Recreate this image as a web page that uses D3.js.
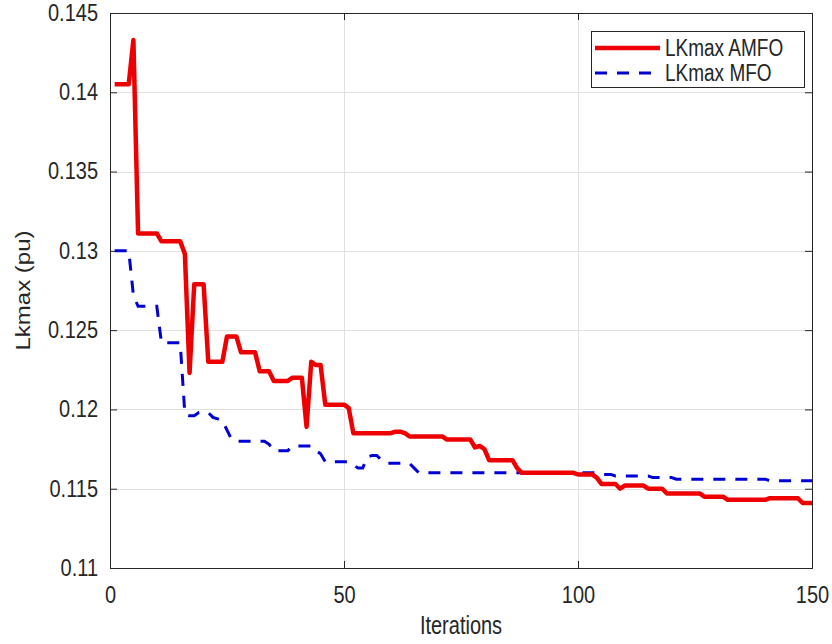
<!DOCTYPE html>
<html>
<head>
<meta charset="utf-8">
<script src="https://cdn.jsdelivr.net/npm/d3@7"></script>
<style>
  html, body { margin: 0; padding: 0; background: #fff; }
  svg { display: block; font-family: "Liberation Sans", Arial, Helvetica, sans-serif; }
</style>
</head>
<body>
<svg class="chart" width="832" height="644"></svg>
<script>
// iteration values, iterations 1..150
const amfo = [
  0.1405, 0.1405, 0.1405, 0.1405, 0.1433, 0.1311, 0.1311, 0.1311, 0.1311, 0.1311,
  0.1306, 0.1306, 0.1306, 0.1306, 0.1306, 0.1298, 0.1223, 0.1279, 0.1279, 0.1279,
  0.1230, 0.1230, 0.1230, 0.1230, 0.1246, 0.1246, 0.1246, 0.1236, 0.1236, 0.1236,
  0.1236, 0.1224, 0.1224, 0.1224, 0.1218, 0.1218, 0.1218, 0.1218, 0.1220, 0.1220,
  0.1220, 0.1189, 0.1230, 0.1228, 0.1228, 0.1203, 0.1203, 0.1203, 0.1203, 0.1203,
  0.1201, 0.1185, 0.1185, 0.1185, 0.1185, 0.1185, 0.1185, 0.1185, 0.1185, 0.1185,
  0.1186, 0.1186, 0.1185, 0.1183, 0.1183, 0.1183, 0.1183, 0.1183, 0.1183, 0.1183,
  0.1183, 0.1181, 0.1181, 0.1181, 0.1181, 0.1181, 0.1181, 0.1176, 0.1177, 0.1175,
  0.1168, 0.1168, 0.1168, 0.1168, 0.1168, 0.1168, 0.1163, 0.1160, 0.1160, 0.1160,
  0.1160, 0.1160, 0.1160, 0.1160, 0.1160, 0.1160, 0.1160, 0.1160, 0.1160, 0.1159,
  0.1159, 0.1159, 0.1159, 0.1157, 0.1153, 0.1153, 0.1153, 0.1153, 0.1150, 0.1152,
  0.1152, 0.1152, 0.1152, 0.1152, 0.1150, 0.1150, 0.1150, 0.1150, 0.1147, 0.1147,
  0.1147, 0.1147, 0.1147, 0.1147, 0.1147, 0.1147, 0.1145, 0.1145, 0.1145, 0.1145,
  0.1145, 0.1143, 0.1143, 0.1143, 0.1143, 0.1143, 0.1143, 0.1143, 0.1143, 0.1143,
  0.1144, 0.1144, 0.1144, 0.1144, 0.1144, 0.1144, 0.1144, 0.1141, 0.1141, 0.1141
];

const mfo = [
  0.1300, 0.1300, 0.1300, 0.1300, 0.1272, 0.1265, 0.1265, 0.1265, 0.1265, 0.1265,
  0.1242, 0.1242, 0.1242, 0.1242, 0.1242, 0.1197, 0.1196, 0.1196, 0.1198, 0.1198,
  0.1198, 0.1195, 0.1194, 0.1193, 0.1187, 0.1181, 0.1180, 0.1180, 0.1180, 0.1180,
  0.1180, 0.1180, 0.1180, 0.1178, 0.1174, 0.1174, 0.1174, 0.1174, 0.1177, 0.1177,
  0.1177, 0.1177, 0.1177, 0.1174, 0.1172, 0.1167, 0.1167, 0.1167, 0.1167, 0.1167,
  0.1167, 0.1165, 0.1163, 0.1163, 0.1170, 0.1171, 0.1171, 0.1168, 0.1166, 0.1166,
  0.1166, 0.1166, 0.1166, 0.1166, 0.1163, 0.1160, 0.1160, 0.1160, 0.1160, 0.1160,
  0.1160, 0.1160, 0.1160, 0.1160, 0.1160, 0.1160, 0.1160, 0.1160, 0.1160, 0.1160,
  0.1160, 0.1160, 0.1160, 0.1160, 0.1160, 0.1160, 0.1160, 0.1160, 0.1160, 0.1160,
  0.1160, 0.1160, 0.1160, 0.1160, 0.1160, 0.1160, 0.1160, 0.1160, 0.1160, 0.1160,
  0.1160, 0.1160, 0.1160, 0.1160, 0.1159, 0.1159, 0.1159, 0.1158, 0.1158, 0.1158,
  0.1158, 0.1158, 0.1158, 0.1158, 0.1158, 0.1157, 0.1157, 0.1157, 0.1157, 0.1157,
  0.1156, 0.1156, 0.1156, 0.1156, 0.1156, 0.1156, 0.1156, 0.1156, 0.1156, 0.1156,
  0.1156, 0.1156, 0.1156, 0.1156, 0.1156, 0.1156, 0.1156, 0.1156, 0.1156, 0.1156,
  0.1155, 0.1155, 0.1155, 0.1155, 0.1155, 0.1155, 0.1155, 0.1155, 0.1155, 0.1155
];

const xTicks = [0, 50, 100, 150];
const yTicks = [0.11, 0.115, 0.12, 0.125, 0.13, 0.135, 0.14, 0.145];
const seriesNames = ["LKmax AMFO", "LKmax MFO"];

(() => {
  const svg = d3.select(".chart");
  const x0 = 110, x1 = 812, y0 = 13, y1 = 568;
  const ink = "#262626";
  const tickSize = 7;

  const x = d3.scaleLinear().domain([0, 150]).range([x0, x1]);
  const y = d3.scaleLinear().domain([0.11, 0.145]).range([y1, y0]);

  // grid
  const grid = svg.append("g").attr("stroke", "#e0e0e0").attr("stroke-width", 1);
  grid.selectAll(".gx").data(xTicks.slice(1, -1)).enter().append("line")
    .attr("x1", (d) => Math.round(x(d)) + 0.5).attr("x2", (d) => Math.round(x(d)) + 0.5)
    .attr("y1", y0).attr("y2", y1);
  grid.selectAll(".gy").data(yTicks.slice(1, -1)).enter().append("line")
    .attr("y1", (d) => Math.round(y(d)) + 0.5).attr("y2", (d) => Math.round(y(d)) + 0.5)
    .attr("x1", x0).attr("x2", x1);

  // axes, ticks pointing inwards like matlab
  const fmtY = (d) => d3.format(".3~f")(d);
  const axB = svg.append("g").attr("transform", `translate(0,${y1})`)
    .call(d3.axisBottom(x).tickValues(xTicks).tickSize(-tickSize).tickPadding(16));
  const axT = svg.append("g").attr("transform", `translate(0,${y0})`)
    .call(d3.axisTop(x).tickValues(xTicks).tickSize(-tickSize).tickFormat(""));
  const axL = svg.append("g").attr("transform", `translate(${x0},0)`)
    .call(d3.axisLeft(y).tickValues(yTicks).tickSize(-tickSize).tickPadding(12).tickFormat(fmtY));
  const axR = svg.append("g").attr("transform", `translate(${x1},0)`)
    .call(d3.axisRight(y).tickValues(yTicks).tickSize(-tickSize).tickFormat(""));

  [axB, axT, axL, axR].forEach((a) => {
    a.select(".domain").attr("stroke", ink).attr("stroke-width", 1);
    a.selectAll(".tick line").attr("stroke", ink);
    // the picture is a bit stretched vertically, so the glyphs are too
    a.selectAll("text").attr("fill", ink).style("font-size", "20px")
      .style("font-family", "'Liberation Sans', Arial, sans-serif")
      .attr("transform", "scale(1,1.15)");
  });

  // lines
  const line = d3.line().x((d, i) => x(i + 1)).y((d) => y(d));

  svg.append("path").datum(mfo)
    .attr("fill", "none").attr("stroke", "#0000d4").attr("stroke-width", 3)
    .attr("stroke-dasharray", "12,10").attr("d", line);

  svg.append("path").datum(amfo)
    .attr("fill", "none").attr("stroke", "#ee0000").attr("stroke-width", 4.5)
    .attr("stroke-linejoin", "round").attr("d", line);

  // labels
  svg.append("text")
    .attr("transform", `translate(${(x0 + x1) / 2},634) scale(1,1.3)`)
    .attr("text-anchor", "middle").attr("fill", ink)
    .style("font-size", "20px").text("Iterations");

  svg.append("text")
    .attr("transform", `translate(30,${(y0 + y1) / 2}) rotate(-90) scale(1.2,1)`)
    .attr("text-anchor", "middle").attr("fill", ink)
    .style("font-size", "20px").text("Lkmax (pu)");

  // legend
  const lg = svg.append("g");
  lg.append("rect")
    .attr("x", 591.5).attr("y", 31.5).attr("width", 213).attr("height", 56)
    .attr("fill", "#fff").attr("stroke", ink).attr("stroke-width", 1);

  const rows = [
    { name: seriesNames[0], color: "#ee0000", w: 4.5, dash: null },
    { name: seriesNames[1], color: "#0000d4", w: 3, dash: "12,10" }
  ];
  rows.forEach((r, i) => {
    const ry = 48 + i * 25;
    lg.append("line")
      .attr("x1", 595).attr("x2", 660).attr("y1", ry).attr("y2", ry)
      .attr("stroke", r.color).attr("stroke-width", r.w)
      .attr("stroke-dasharray", r.dash);
    lg.append("text")
      .attr("transform", `translate(665,${ry}) scale(1,1.25)`)
      .attr("dy", "0.35em")
      .attr("fill", ink).style("font-size", "19px").text(r.name);
  });
})();
</script>
</body>
</html>
